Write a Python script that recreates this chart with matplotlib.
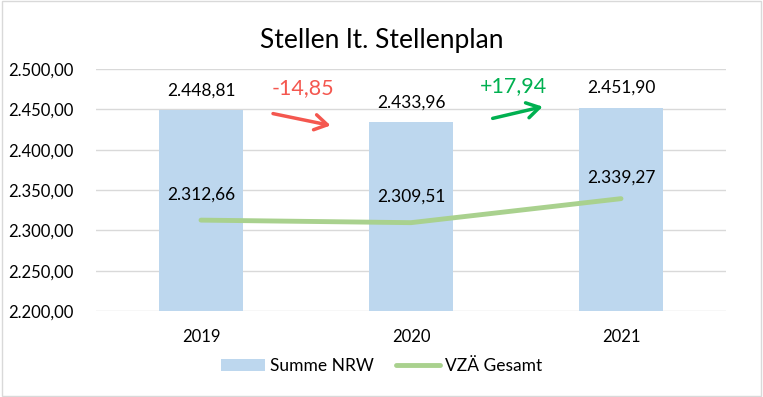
import matplotlib.pyplot as plt
from matplotlib.patches import Rectangle

years = ['2019', '2020', '2021']
summe_nrw = [2448.81, 2433.96, 2451.90]
vza_gesamt = [2312.66, 2309.51, 2339.27]
y_ticks = [2200, 2250, 2300, 2350, 2400, 2450, 2500]

bar_color = '#BDD7EE'
line_color = '#A9D18E'
grid_color = '#D9D9D9'

plt.rcParams['font.family'] = ['Lato', 'DejaVu Sans']


def de_fmt(v):
    # 2448.81 -> 2.448,81
    s = '{:,.2f}'.format(v)
    return s.replace(',', 'X').replace('.', ',').replace('X', '.')


fig = plt.figure(figsize=(7.63, 3.97), dpi=100)
ax = fig.add_axes([96 / 763, 86 / 397, 630 / 763, 242 / 397])

x = list(range(len(years)))
ax.bar(x, summe_nrw, width=0.4, color=bar_color, label='Summe NRW', zorder=2)
ax.plot(x, vza_gesamt, color=line_color, linewidth=3.5, solid_capstyle='round',
        label='VZÄ Gesamt', zorder=3)

# Datenbeschriftungen
for i, v in enumerate(summe_nrw):
    ax.annotate(de_fmt(v), (i, v), xytext=(0, 14.5), textcoords='offset points',
                ha='center', va='center', fontsize=12.5, color='black')
line_offsets = [18, 18.5, 15]
for i, v in enumerate(vza_gesamt):
    ax.annotate(de_fmt(v), (i, v), xytext=(0, line_offsets[i]), textcoords='offset points',
                ha='center', va='center', fontsize=12.5, color='black')

# Veränderung zum Vorjahr mit Pfeilen
diffs = [summe_nrw[1] - summe_nrw[0], summe_nrw[2] - summe_nrw[1]]
arrows = [((0.33, 2445.4), (0.63, 2429.3), (0.486, 2476.4), '#F4574F'),
          ((1.376, 2438.0), (1.64, 2454.1), (1.486, 2478.9), '#00B050')]
for d, (start, end, tpos, col) in zip(diffs, arrows):
    ax.annotate('', xy=end, xytext=start,
                arrowprops=dict(arrowstyle='->,head_length=0.9,head_width=0.55',
                                color=col, lw=2.5), annotation_clip=False)
    txt = ('+' if d > 0 else '') + de_fmt(d)
    ax.text(tpos[0], tpos[1], txt, ha='center', va='center', fontsize=15.5, color=col)

ax.set_xlim(-0.5, 2.5)
ax.set_ylim(2200, 2500)
ax.set_yticks(y_ticks)
ax.set_yticklabels([de_fmt(t) for t in y_ticks])
ax.set_xticks(x)
ax.set_xticklabels(years)
ax.tick_params(length=0, labelsize=12, colors='black')
ax.tick_params(axis='y', pad=16)
ax.tick_params(axis='x', pad=13)
ax.grid(axis='y', color=grid_color, linewidth=1, zorder=0)
for s in ax.spines.values():
    s.set_visible(False)

fig.text(0.5, 0.898, 'Stellen lt. Stellenplan', ha='center', va='center',
         fontsize=19, color='black')

handles, labels = ax.get_legend_handles_labels()
order = [labels.index('Summe NRW'), labels.index('VZÄ Gesamt')]
fig.legend([handles[k] for k in order], [labels[k] for k in order],
           loc='center', bbox_to_anchor=(0.5, 31 / 397), ncol=2, frameon=False,
           fontsize=12.5, handlelength=2.5, handletextpad=0.3, columnspacing=1.3)

fig.patches.append(Rectangle((0.002, 0.003), 0.996, 0.994, transform=fig.transFigure,
                             fill=False, edgecolor=grid_color, linewidth=1))

fig.savefig('out.png', dpi=100)
